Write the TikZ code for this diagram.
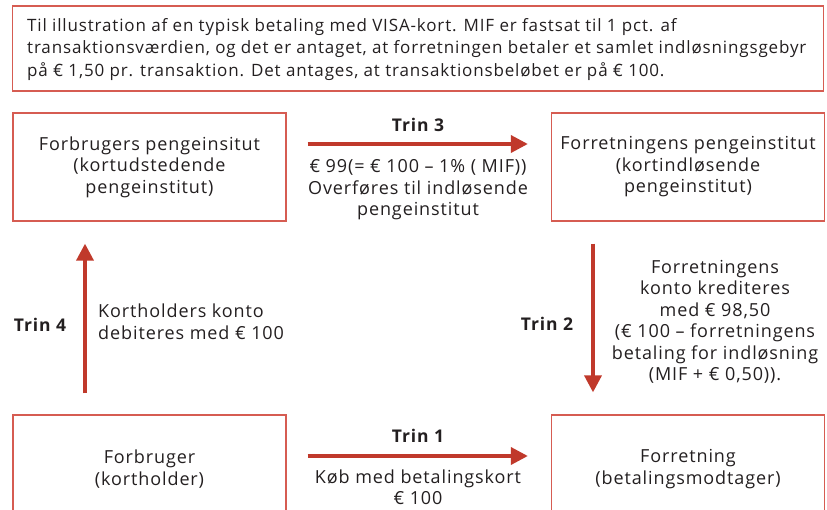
\documentclass[tikz,border=0pt]{standalone}
\usepackage{fontspec}
\setmainfont{Open Sans}[LetterSpace=5]
\usetikzlibrary{arrows.meta,calc}
\definecolor{boxred}{RGB}{214,92,82}
\definecolor{arrowred}{RGB}{192,57,43}
\definecolor{ink}{RGB}{35,31,32}
\begin{document}
\begin{tikzpicture}[x=1pt,y=1pt,
  every node/.style={text=ink,font=\fontsize{18}{21.5}\selectfont,inner sep=0pt},
  party/.style={draw=boxred,line width=1.3pt,minimum width=273pt,minimum height=108pt,align=center},
  flow/.style={draw=arrowred,line width=3.6pt,-{Triangle[length=17pt,width=17pt]}},
  steplabel/.style={font=\fontsize{17.5}{21.5}\selectfont\bfseries},
  note/.style={align=center}]
\useasboundingbox (0,0) rectangle (827,-509);

% intro text box
\node[draw=boxred,line width=1.3pt,minimum width=811pt,minimum height=85pt] (intro) at (418,-48.5) {};
\node[anchor=west,align=left,font=\fontsize{17}{22.5}\selectfont] (introtext) at (27,-49.5)
  {Til illustration af en typisk betaling med VISA-kort. MIF er fastsat til 1 pct. af\\
   transaktionsværdien, og det er antaget, at forretningen betaler et samlet indløsningsgebyr\\
   på € 1,50 pr. transaktion. Det antages, at transaktionsbeløbet er på € 100.};

% the four parties
\node[party] (issuer) at (149.5,-167) {Forbrugers pengeinsitut\\(kortudstedende\\pengeinstitut)};
\node[party] (acquirer) at (688,-167) {Forretningens pengeinstitut\\(kortindløsende\\pengeinstitut)};
\node[party] (holder) at (149.5,-469) {Forbruger\\(kortholder)};
\node[party] (merchant) at (688,-469) {Forretning\\(betalingsmodtager)};

% step 1
\draw[flow] ($(holder.east)+(21,13)$) -- ($(merchant.west)+(-23,13)$);
\node[steplabel] (t1) at (418,-436) {Trin 1};
\node[note,font=\fontsize{18}{21}\selectfont] (t1text) at (418,-487) {Køb med betalingskort\\€ 100};

% step 2
\draw[flow] ($(acquirer.south)+(-95,-22)$) -- ($(merchant.north)+(-95,22)$);
\node[steplabel] (t2) at (547,-324) {Trin 2};
\node[note] (t2text) at (715,-322)
  {Forretningens\\konto krediteres\\med € 98,50\\(€ 100 -- forretningens\\betaling for indløsning\\(MIF + € 0,50)).};

% step 3
\draw[flow] ($(issuer.east)+(21,23)$) -- ($(acquirer.west)+(-23,23)$);
\node[steplabel] (t3) at (418,-125) {Trin 3};
\node[note] (t3text) at (418,-190)
  {€ 99(= € 100 -- 1\% ( MIF))\\Overføres til indløsende\\pengeinstitut};

% step 4
\draw[flow] ($(holder.north)+(-64.5,21)$) -- ($(issuer.south)+(-64.5,-22)$);
\node[steplabel] (t4) at (40,-325) {Trin 4};
\node[anchor=west,align=left] (t4text) at (98,-321.5) {Kortholders konto\\debiteres med € 100};
\end{tikzpicture}
\end{document}
